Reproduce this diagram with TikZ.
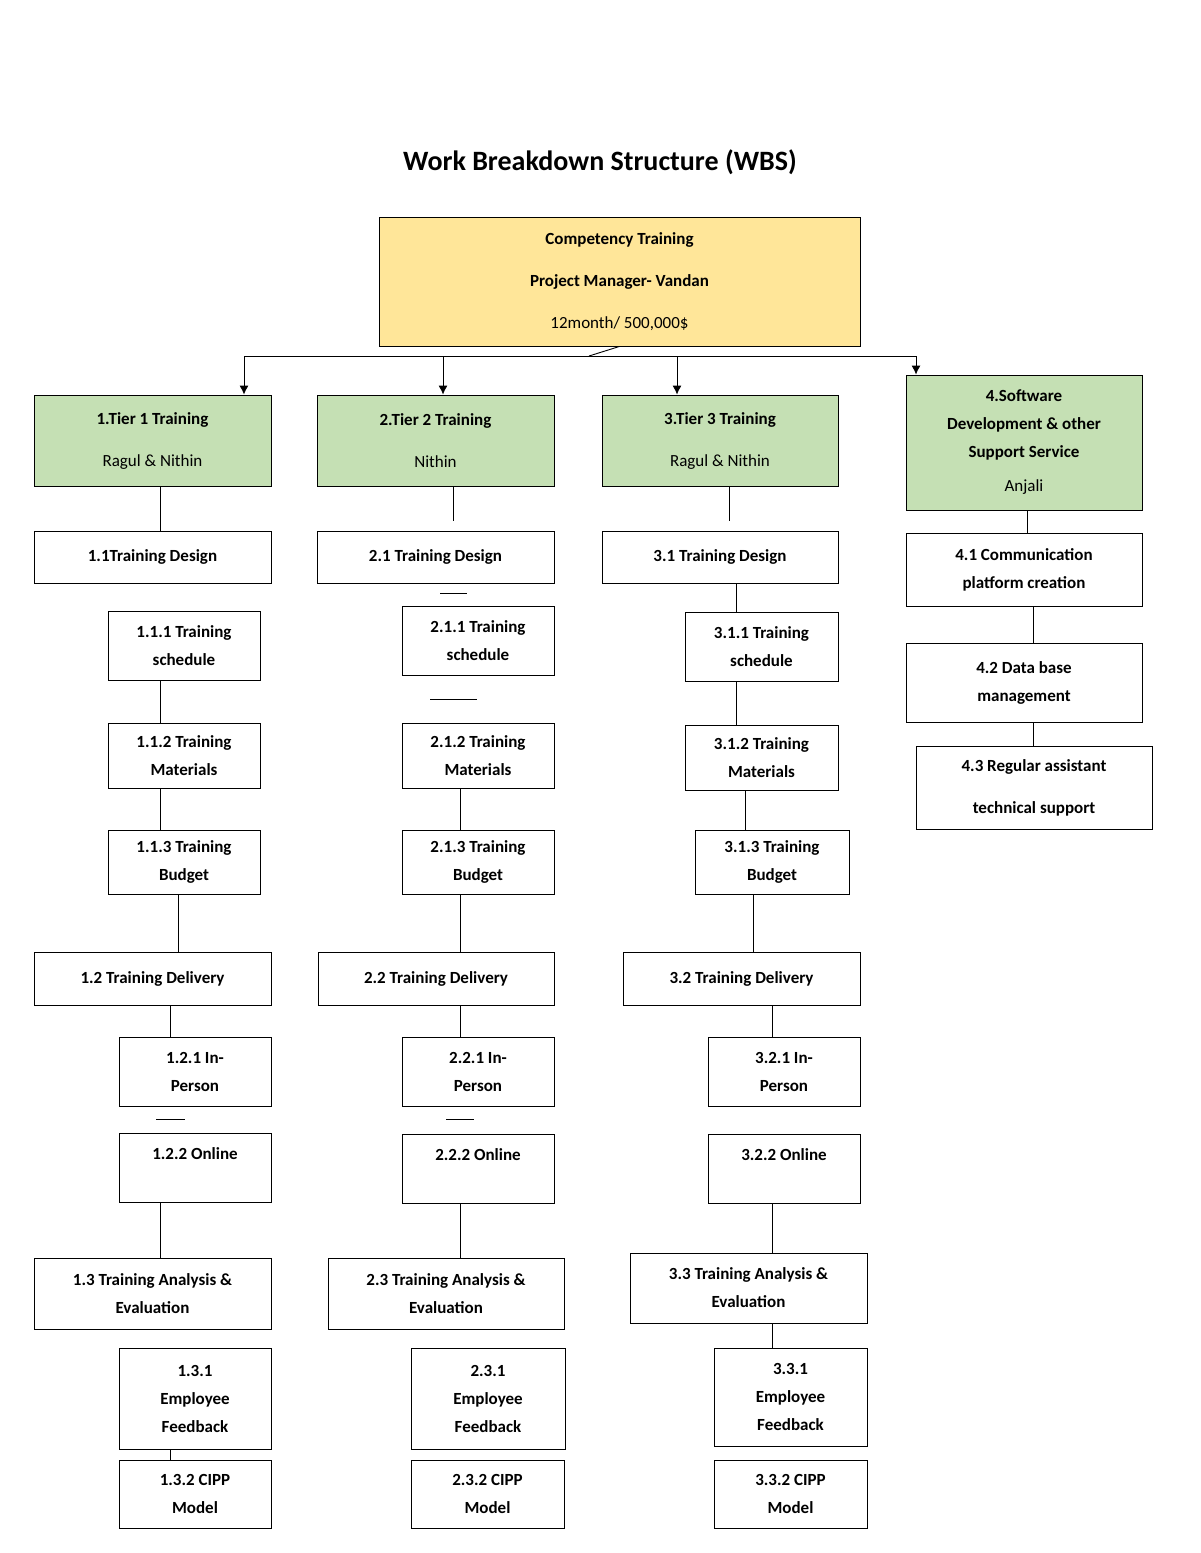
\documentclass[tikz,border=0pt]{standalone}
\usepackage{fontspec}
\setmainfont{Carlito}
\begin{document}
\begin{tikzpicture}[x=1pt,y=-1pt,
  box/.style={draw=black,line width=0.9pt,align=center,inner sep=2pt,font=\fontsize{17}{28}\selectfont\bfseries},
  ln/.style={line width=0.9pt},
  arr/.style={ln,-{Latex[length=9pt,width=9pt]}}]
\usetikzlibrary{arrows.meta}
\useasboundingbox (0,0) rectangle (1200,1553);
\newcommand\bx[7][]{%
  \pgfmathsetmacro\bw{#5-#3}\pgfmathsetmacro\bh{#6-#4}%
  \node[box,minimum width=\bw pt,minimum height=\bh pt,#1] (#2) at ({(#3+#5)/2},{(#4+#6)/2}) {#7};}
\node[font=\fontsize{28}{32}\selectfont\bfseries] (title) at (600,162) {Work Breakdown Structure (WBS)};
\bx[fill={rgb,255:red,255;green,230;blue,153}]{top}{379}{217}{860}{346}{Competency Training\\[14pt]Project Manager- Vandan\\[14pt]{\mdseries 12month/ 500,000\$}}
\tikzset{g/.style={fill={rgb,255:red,197;green,224;blue,180}}}
\bx[g]{t1}{34}{395}{271}{486}{1.Tier 1 Training\\[14pt]{\mdseries Ragul \& Nithin}}
\bx[g]{t2}{317}{395}{554}{486}{2.Tier 2 Training\\[14pt]{\mdseries Nithin}}
\bx[g]{t3}{602}{395}{838}{486}{3.Tier 3 Training\\[14pt]{\mdseries Ragul \& Nithin}}
\bx[g]{t4}{906}{375}{1142}{510}{4.Software\\Development \& other\\Support Service\\[6pt]{\mdseries Anjali}}
\coordinate (hub) at (589,356);
\draw[ln] (top.south) -- (hub);
\draw[ln] (244,356) -- (916,356);
\draw[arr] (244,356) -- (t1.north -| 244,0);
\draw[arr] (443,356) -- (t2.north -| 443,0);
\draw[arr] (677,356) -- (t3.north -| 677,0);
\draw[arr] (916,356) -- (t4.north -| 916,0);
% column 1
\bx{a1}{34}{531}{271}{583}{1.1Training Design}
\bx{a11}{108}{611}{260}{680}{1.1.1 Training\\schedule}
\bx{a12}{108}{723}{260}{788}{1.1.2 Training\\Materials}
\bx{a13}{108}{830}{260}{894}{1.1.3 Training\\Budget}
\bx{a2}{34}{952}{271}{1005}{1.2 Training Delivery}
\bx{a21}{119}{1037}{271}{1106}{1.2.1 In-\\Person}
\bx{a22}{119}{1133}{271}{1202}{1.2.2 Online\\~}
\bx{a3}{34}{1258}{271}{1329}{1.3 Training Analysis \&\\Evaluation}
\bx{a31}{119}{1348}{271}{1449}{1.3.1\\Employee\\Feedback}
\bx{a32}{119}{1460}{271}{1528}{1.3.2 CIPP\\Model}
\draw[ln] (160,486) -- (160,531);
\draw[ln] (160,680) -- (160,723);
\draw[ln] (160,788) -- (160,830);
\draw[ln] (178,894) -- (178,952);
\draw[ln] (170,1005) -- (170,1037);
\draw[ln] (156,1119) -- (185,1119);
\draw[ln] (160,1202) -- (160,1258);
\draw[ln] (170,1449) -- (170,1460);
% column 2
\bx{b1}{317}{531}{554}{583}{2.1 Training Design}
\bx{b11}{402}{606}{554}{675}{2.1.1 Training\\schedule}
\bx{b12}{402}{723}{554}{788}{2.1.2 Training\\Materials}
\bx{b13}{402}{830}{554}{894}{2.1.3 Training\\Budget}
\bx{b2}{318}{952}{554}{1005}{2.2 Training Delivery}
\bx{b21}{402}{1037}{554}{1106}{2.2.1 In-\\Person}
\bx{b22}{402}{1134}{554}{1203}{2.2.2 Online\\~}
\bx{b3}{328}{1258}{564}{1329}{2.3 Training Analysis \&\\Evaluation}
\bx{b31}{411}{1348}{565}{1449}{2.3.1\\Employee\\Feedback}
\bx{b32}{411}{1460}{564}{1528}{2.3.2 CIPP\\Model}
\draw[ln] (453,486) -- (453,521);
\draw[ln] (440,593) -- (467,593);
\draw[ln] (430,699) -- (477,699);
\draw[ln] (460,788) -- (460,830);
\draw[ln] (460,894) -- (460,952);
\draw[ln] (460,1005) -- (460,1037);
\draw[ln] (446,1119) -- (474,1119);
\draw[ln] (460,1203) -- (460,1258);
% column 3
\bx{c1}{602}{531}{838}{583}{3.1 Training Design}
\bx{c11}{685}{612}{838}{681}{3.1.1 Training\\schedule}
\bx{c12}{685}{725}{838}{790}{3.1.2 Training\\Materials}
\bx{c13}{695}{830}{849}{894}{3.1.3 Training\\Budget}
\bx{c2}{623}{952}{860}{1005}{3.2 Training Delivery}
\bx{c21}{708}{1037}{860}{1106}{3.2.1 In-\\Person}
\bx{c22}{708}{1134}{860}{1203}{3.2.2 Online\\~}
\bx{c3}{630}{1253}{867}{1323}{3.3 Training Analysis \&\\Evaluation}
\bx{c31}{714}{1348}{867}{1446}{3.3.1\\Employee\\Feedback}
\bx{c32}{714}{1460}{867}{1528}{3.3.2 CIPP\\Model}
\draw[ln] (729,486) -- (729,521);
\draw[ln] (736,583) -- (736,612);
\draw[ln] (736,681) -- (736,725);
\draw[ln] (745,790) -- (745,830);
\draw[ln] (753,894) -- (753,952);
\draw[ln] (772,1005) -- (772,1037);
\draw[ln] (772,1203) -- (772,1253);
\draw[ln] (772,1323) -- (772,1348);
% column 4
\bx{d1}{906}{533}{1142}{606}{4.1 Communication\\platform creation}
\bx{d2}{906}{643}{1142}{722}{4.2 Data base\\management}
\bx{d3}{916}{746}{1152}{829}{4.3 Regular assistant\\[14pt]technical support}
\draw[ln] (1027,510) -- (1027,533);
\draw[ln] (1033,606) -- (1033,643);
\draw[ln] (1033,722) -- (1033,746);
\end{tikzpicture}
\end{document}
